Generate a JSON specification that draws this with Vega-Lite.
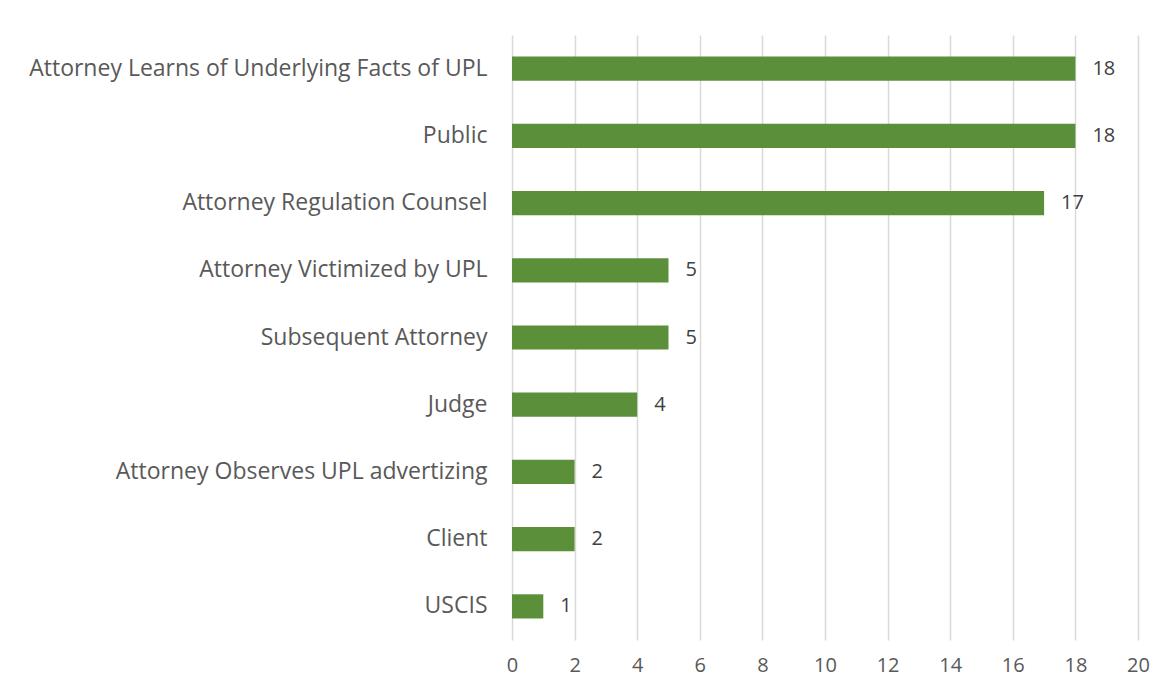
{
  "$schema": "https://vega.github.io/schema/vega-lite/v6.json",
  "width": 626,
  "height": 605,
  "autosize": {"type": "none"},
  "padding": {"left": 512, "top": 35, "right": 31, "bottom": 55},
  "background": "white",
  "config": {"view": {"stroke": null}, "font": "Open Sans"},
  "data": {"values": [
    {"source": "Attorney Learns of Underlying Facts of UPL", "count": 18},
    {"source": "Public", "count": 18},
    {"source": "Attorney Regulation Counsel", "count": 17},
    {"source": "Attorney Victimized by UPL", "count": 5},
    {"source": "Subsequent Attorney", "count": 5},
    {"source": "Judge", "count": 4},
    {"source": "Attorney Observes UPL advertizing", "count": 2},
    {"source": "Client", "count": 2},
    {"source": "USCIS", "count": 1}
  ]},
  "encoding": {
    "y": {"field": "source", "type": "nominal", "sort": null,
      "scale": {"paddingInner": 0.64, "paddingOuter": 0.32},
      "axis": {"title": null, "domain": false, "ticks": false, "labelFontSize": 23, "labelColor": "#595959", "labelPadding": 25, "labelLimit": 600, "grid": false}},
    "x": {"field": "count", "type": "quantitative",
      "scale": {"domain": [0, 20], "nice": false},
      "axis": {"title": null, "values": [0,2,4,6,8,10,12,14,16,18,20], "domain": false, "ticks": false, "labelFlush": false, "labelFontSize": 20, "labelColor": "#595959", "labelPadding": 15, "gridColor": "#D9D9D9", "gridWidth": 1.5}}
  },
  "layer": [
    {"mark": {"type": "bar", "color": "#5B8F3A"}},
    {"mark": {"type": "text", "align": "left", "dx": 17, "fontSize": 20, "color": "#404040"},
     "encoding": {"text": {"field": "count", "type": "quantitative"}}}
  ]
}
